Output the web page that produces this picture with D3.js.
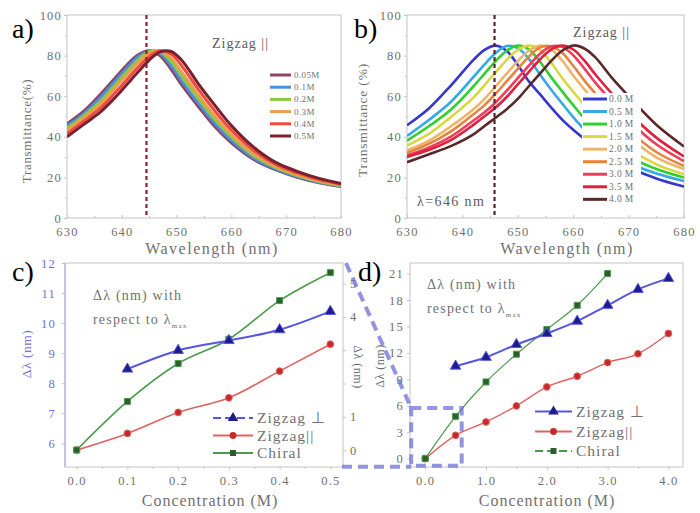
<!DOCTYPE html>
<html>
<head>
<meta charset="utf-8">
<script src="https://cdn.jsdelivr.net/npm/d3@7"></script>
<style>
  body { margin: 0; background: #fff; }
</style>
</head>
<body>
<div id="chart"></div>
<script>
// ---- panel a : Zigzag || spectra, low concentrations ----
const aWave = [630, 633, 636, 639, 641, 643, 645, 647, 649, 651, 654, 657, 660, 664, 668, 672, 676, 680];
const aLabels = ["0.05M", "0.1M", "0.2M", "0.3M", "0.4M", "0.5M"];
const aColors = ["#8e4466", "#4a8ee0", "#8cc83c", "#e8a050", "#f04a3a", "#7a2030"];
const a005 = [46.4, 52.5, 60.6, 69.6, 75.6, 80.4, 82.4, 79.9, 73.2, 65.3, 54.8, 44.9, 37, 28.9, 23.8, 20.1, 17.4, 15.5];
const a01  = [45.4, 51.3, 59.1, 68.1, 74.1, 79.4, 82.3, 81, 75, 67.2, 56.5, 46.5, 38.2, 29.7, 24.3, 20.4, 17.6, 15.7];
const a02  = [44.2, 50.2, 57.3, 66.3, 72.3, 78, 81.9, 81.9, 77.2, 69.6, 58.7, 48.5, 39.8, 30.8, 24.9, 20.9, 18, 16];
const a03  = [43.2, 49.2, 56, 64.8, 70.8, 76.7, 81.1, 82.3, 78.7, 71.6, 60.4, 50.1, 41, 31.8, 25.5, 21.4, 18.3, 16.3];
const a04  = [41.6, 47.6, 54, 62.4, 68.4, 74.4, 79.6, 82.4, 80.8, 74.7, 63.2, 52.7, 43.2, 33.4, 26.5, 22.2, 18.9, 16.6];
const a05  = [40, 46, 52, 60, 66, 72, 77.8, 81.8, 82, 77.5, 66, 55.5, 45.5, 35, 27.5, 23, 19.5, 17];
const aSeries = [a005, a01, a02, a03, a04, a05];
const aMarkLine = 644.5;

// ---- panel b : Zigzag || spectra, high concentrations ----
const bWave = [630, 634, 638, 642, 644, 646, 648, 650, 652, 654, 656, 658, 660, 662, 664, 667, 670, 675, 680];
const bLabels = ["0.0 M", "0.5 M", "1.0 M", "1.5 M", "2.0 M", "2.5 M", "3.0 M", "3.5 M", "4.0 M"];
const bColors = ["#3636d0", "#36a8e8", "#30d030", "#d8d840", "#f0b468", "#e8843a", "#f03c5a", "#e0203c", "#5a2828"];
const b00 = [45.7, 54.1, 65.5, 77.9, 82.8, 84.9, 82.3, 75.4, 67.3, 61, 54.5, 48.5, 43.5, 39, 35, 29.5, 25, 19.5, 15.5];
const b05 = [40.4, 48.4, 57.4, 69.5, 75.7, 81.3, 84.7, 83.7, 78.4, 70.7, 63.3, 56.4, 49.7, 43.6, 38.5, 32, 27.2, 21.9, 18.2];
const b10 = [38.1, 45.3, 53.6, 64.9, 71.1, 77.3, 82.4, 85, 83.1, 77, 69.4, 62.4, 55.6, 49.1, 43.4, 36, 30.3, 24.1, 19.9];
const b15 = [35.7, 41.6, 49.9, 59.3, 65.5, 71.7, 77.9, 82.8, 84.9, 82.8, 76.6, 69, 62.2, 55.6, 49.2, 41, 34.3, 26.4, 21.5];
const b20 = [33.3, 38.1, 45.3, 53.6, 58.7, 64.9, 71.1, 77.3, 82.4, 85, 83.2, 77.6, 70.2, 63.4, 56.9, 47.5, 40, 29.9, 24.1];
const b25 = [32.1, 36.6, 42.8, 51.1, 55.6, 61.2, 67.4, 73.5, 79.5, 84, 84.6, 81.4, 75, 67.8, 61.3, 51.9, 43.4, 32.5, 25.6];
const b30 = [30.8, 34.7, 40.2, 48, 52.1, 56.9, 62.7, 68.9, 75.1, 80.9, 84.5, 84.3, 80.2, 73.7, 66.7, 57.3, 48.3, 36.3, 28];
const b35 = [30.1, 33.6, 38.5, 45.9, 50.1, 54.4, 59.6, 65.8, 72, 78.1, 83, 84.9, 83, 77.6, 70.7, 61.2, 52.1, 39.6, 30.3];
const b40 = [27.5, 31.4, 35.5, 41.2, 45.3, 49.4, 53.6, 58.7, 64.9, 71.1, 77.3, 82.4, 85, 83.5, 79.1, 69, 60, 45.9, 35.2];
const bSeries = [b00, b05, b10, b15, b20, b25, b30, b35, b40];
const bMarkLine = 645.8;

const waveTicks = [630, 640, 650, 660, 670, 680];
const transTicks = [0, 20, 40, 60, 80, 100];

// ---- panel c : shift vs concentration (0 - 0.5 M) ----
const cConcPerp = [0.1, 0.2, 0.3, 0.4, 0.5];
const cPerp = [8.47, 9.09, 9.42, 9.78, 10.39];          // left axis
const cConc = [0, 0.1, 0.2, 0.3, 0.4, 0.5];
const cPar = [0, 0.5, 1.13, 1.57, 2.37, 3.18];         // right axis
const cChiral = [0, 1.46, 2.6, 3.33, 4.49, 5.33];      // right axis
const cTicksX = [0, 0.1, 0.2, 0.3, 0.4, 0.5];
const cTicksLeft = [6, 7, 8, 9, 10, 11, 12];
const cTicksRight = [0, 1, 2, 3, 4, 5];

// ---- panel d : shift vs concentration (0 - 4 M) ----
const dConcPerp = [0.5, 1, 1.5, 2, 2.5, 3, 3.5, 4];
const dPerp = [10.5, 11.5, 12.95, 14.2, 15.6, 17.4, 19.2, 20.45];
const dConcPar = [0, 0.5, 1, 1.5, 2, 2.5, 3, 3.5, 4];
const dPar = [0, 2.65, 4.16, 5.98, 8.14, 9.35, 10.9, 11.9, 14.2];
const dConcChiral = [0, 0.5, 1, 1.5, 2, 2.5, 3];
const dChiral = [0, 4.8, 8.7, 11.85, 14.65, 17.4, 21];
const dTicksX = [0, 1, 2, 3, 4];
const dTicksY = [0, 3, 6, 9, 12, 15, 18, 21];

const serif = "'Liberation Serif', serif";
const gray = "#707070";
const frameCol = "#c4c4c4";
const blueAxis = "#6f6fd6";

const svg = d3.select("#chart").append("svg")
    .attr("width", 700).attr("height", 513);
svg.append("rect").attr("width", 700).attr("height", 513).attr("fill", "#fff");

function styleAxis(g, color) {
    g.attr("font-family", serif);
    g.select(".domain").remove();
    g.selectAll("line").attr("stroke", frameCol);
    g.selectAll("text")
        .attr("fill", color || gray)
        .style("font-family", serif)
        .style("font-size", "12.5px")
        .style("letter-spacing", "1.2px");
}

function frame(x, y) {
    svg.append("rect")
        .attr("x", x.range()[0]).attr("y", y.range()[1])
        .attr("width", x.range()[1] - x.range()[0])
        .attr("height", y.range()[0] - y.range()[1])
        .attr("fill", "none").attr("stroke", frameCol);
}

function label(txt, x, y, opts = {}) {
    const t = svg.append("text").attr("x", x).attr("y", y).text(txt)
        .attr("fill", opts.color || gray)
        .style("font-family", opts.font || serif)
        .style("font-size", (opts.size || 14) + "px")
        .style("letter-spacing", (opts.ls == null ? 1 : opts.ls) + "px")
        .attr("text-anchor", opts.anchor || "start");
    if (opts.rotate) t.attr("transform", `rotate(${opts.rotate},${x},${y})`);
    return t;
}

// ---------- spectra panels ----------
function spectra(wave, series, colors, x, y, width) {
    const line = d3.line()
        .x((d, i) => x(wave[i]))
        .y(d => y(d))
        .curve(d3.curveCatmullRom);
    const clip = "clip" + Math.round(x.range()[0]);
    svg.append("clipPath").attr("id", clip).append("rect")
        .attr("x", x.range()[0]).attr("y", y.range()[1])
        .attr("width", x.range()[1] - x.range()[0])
        .attr("height", y.range()[0] - y.range()[1]);
    svg.append("g").attr("clip-path", `url(#${clip})`)
        .selectAll("path").data(series).join("path")
        .attr("d", line)
        .attr("fill", "none")
        .attr("stroke", (d, i) => colors[i])
        .attr("stroke-width", width)
        .attr("stroke-linejoin", "round");
}

function spectraAxes(x, y) {
    svg.append("g").attr("transform", `translate(0,${y.range()[0]})`)
        .call(d3.axisBottom(x).tickValues(waveTicks).tickSize(-3).tickPadding(9))
        .call(styleAxis);
    svg.append("g").attr("transform", `translate(0,${y.range()[0]})`)
        .call(d3.axisBottom(x).tickValues([635, 645, 655, 665, 675]).tickSize(-2).tickFormat(""))
        .call(styleAxis);
    svg.append("g").attr("transform", `translate(${x.range()[0]},0)`)
        .call(d3.axisLeft(y).tickValues(transTicks).tickSize(3).tickPadding(2))
        .call(styleAxis);
    svg.append("g").attr("transform", `translate(${x.range()[0]},0)`)
        .call(d3.axisLeft(y).tickValues([10, 30, 50, 70, 90]).tickSize(2).tickFormat(""))
        .call(styleAxis);
    frame(x, y);
}

// panel a
const xa = d3.scaleLinear().domain([630, 680]).range([67, 341]);
const ya = d3.scaleLinear().domain([0, 100]).range([218, 15]);
spectraAxes(xa, ya);
spectra(aWave, aSeries, aColors, xa, ya, 3);
svg.append("line")
    .attr("x1", xa(aMarkLine)).attr("x2", xa(aMarkLine))
    .attr("y1", ya(100)).attr("y2", ya(0))
    .attr("stroke", "#8a2030").attr("stroke-width", 2.2).attr("stroke-dasharray", "4,3");
label("Zigzag ||", 212, 48, { color: "#5a5a5a", size: 14 });
aLabels.forEach((l, i) => {
    const yy = 75 + i * 12.2;
    svg.append("line").attr("x1", 270).attr("x2", 291).attr("y1", yy).attr("y2", yy)
        .attr("stroke", aColors[i]).attr("stroke-width", 3);
    label(l, 294, yy + 3, { size: 9, ls: 0.4 });
});
label("Wavelength (nm)", 212, 254, { anchor: "middle", size: 16, ls: 1.5 });
label("Transmittance(%)", 31, 131, { anchor: "middle", size: 13, ls: 0.7, rotate: -90 });

// panel b
const xb = d3.scaleLinear().domain([630, 680]).range([407, 684]);
const yb = d3.scaleLinear().domain([0, 100]).range([218, 15]);
spectraAxes(xb, yb);
spectra(bWave, bSeries, bColors, xb, yb, 2.6);
svg.append("line")
    .attr("x1", xb(bMarkLine)).attr("x2", xb(bMarkLine))
    .attr("y1", yb(100)).attr("y2", yb(0))
    .attr("stroke", "#5a2030").attr("stroke-width", 2.2).attr("stroke-dasharray", "4,3");
label("Zigzag ||", 573, 37, { color: "#5a5a5a", size: 14 });
label("λ=646 nm", 417, 206, { color: "#5a5a5a", size: 14, ls: 1.4 });
svg.append("rect").attr("x", 582).attr("y", 93).attr("width", 59).attr("height", 113).attr("fill", "#fff");
bLabels.forEach((l, i) => {
    const yy = 99 + i * 12.54;
    svg.append("line").attr("x1", 583).attr("x2", 607).attr("y1", yy).attr("y2", yy)
        .attr("stroke", bColors[i]).attr("stroke-width", 3);
    label(l, 609, yy + 3, { size: 9.5, ls: 0.4 });
});
label("Wavelength (nm)", 567, 254, { anchor: "middle", size: 16, ls: 1.5 });
label("Transmittance (%)", 367, 120, { anchor: "middle", size: 13.5, ls: 0.8, rotate: -90 });

// ---------- shift panels ----------
const seriesStyle = {
    perp: { line: "#5656e0", mark: "#1c1c8a", sym: d3.symbolTriangle, size: 48 },
    par: { line: "#e26262", mark: "#c42a2a", sym: d3.symbolCircle, size: 36 },
    chiral: { line: "#4c9a4c", mark: "#2a5e2a", sym: d3.symbolSquare, size: 36 }
};

function plotSeries(xs, ys, x, y, st, width) {
    const pts = xs.map((v, i) => [v, ys[i]]);
    svg.append("path").datum(pts)
        .attr("d", d3.line().x(d => x(d[0])).y(d => y(d[1])).curve(d3.curveMonotoneX))
        .attr("fill", "none").attr("stroke", st.line).attr("stroke-width", width);
    svg.append("g").selectAll("path").data(pts).join("path")
        .attr("transform", d => `translate(${x(d[0])},${y(d[1])})`)
        .attr("d", d3.symbol(st.sym, st.size))
        .attr("fill", st.mark).attr("stroke", st.line).attr("stroke-width", 1);
}

function legendRow(x0, x1, yy, st, txt, dashed) {
    svg.append("line").attr("x1", x0).attr("x2", x1).attr("y1", yy).attr("y2", yy)
        .attr("stroke", st.line).attr("stroke-width", 2)
        .attr("stroke-dasharray", dashed ? "8,4" : null);
    svg.append("path").attr("transform", `translate(${(x0 + x1) / 2},${yy})`)
        .attr("d", d3.symbol(st.sym, st.size)).attr("fill", st.mark);
    label(txt, x1 + 4, yy + 5, { size: 15.5, ls: 1 });
}

function withRespect(x, y) {
    label("Δλ (nm) with", x, y, { size: 14, ls: 1.2 });
    const t = label("respect to λ", x, y + 24, { size: 14, ls: 1.2 });
    t.append("tspan").text("max").attr("dy", 4).style("font-size", "7px");
}

// panel c
const xc = d3.scaleLinear().domain([-0.023, 0.525]).range([65, 343]);
const ycL = d3.scaleLinear().domain([5.21, 12]).range([467, 263]);
const ycR = d3.scaleLinear().domain([-0.51, 5.62]).range([467, 263]);
frame(xc, ycL);
svg.append("g").attr("transform", "translate(0,467)")
    .call(d3.axisBottom(xc).tickValues(cTicksX).tickSize(3).tickPadding(6).tickFormat(d3.format(".1f")))
    .call(styleAxis);
svg.append("g").attr("transform", "translate(0,467)")
    .call(d3.axisBottom(xc).tickValues([0.05, 0.15, 0.25, 0.35, 0.45]).tickSize(2).tickFormat(""))
    .call(styleAxis);
svg.append("g").attr("transform", "translate(65,0)")
    .call(d3.axisLeft(ycL).tickValues(cTicksLeft).tickSize(3).tickPadding(6).tickFormat(d3.format("d")))
    .call(g => styleAxis(g, blueAxis));
svg.append("g").attr("transform", "translate(343,0)")
    .call(d3.axisRight(ycR).tickValues(cTicksRight).tickSize(3).tickPadding(4)
        .tickFormat(d => (d === 2 || d === 3) ? "" : d))
    .call(styleAxis);
svg.append("line").attr("x1", 65).attr("x2", 65).attr("y1", 263).attr("y2", 467)
    .attr("stroke", "#a8a8e0");
plotSeries(cConc, cPar, xc, ycR, seriesStyle.par, 1.6);
plotSeries(cConc, cChiral, xc, ycR, seriesStyle.chiral, 1.6);
plotSeries(cConcPerp, cPerp, xc, ycL, seriesStyle.perp, 2);
withRespect(93, 300);
legendRow(213, 253, 418, seriesStyle.perp, "Zigzag ⊥", true);
legendRow(213, 253, 435.5, seriesStyle.par, "Zigzag||", false);
legendRow(213, 253, 453, seriesStyle.chiral, "Chiral", false);
label("Concentration (M)", 210, 506, { anchor: "middle", size: 16, ls: 1 });
label("Δλ (nm)", 31, 354, { anchor: "middle", size: 13.5, ls: 0.5, color: blueAxis, rotate: -90 });
label("Δλ (nm)", 354, 367, { anchor: "middle", size: 12, ls: 0.5, rotate: 90 });

// panel d
const xd = d3.scaleLinear().domain([-0.25, 4.24]).range([410, 683]);
const yd = d3.scaleLinear().domain([-0.95, 22.2]).range([467, 263]);
frame(xd, yd);
svg.append("g").attr("transform", "translate(0,467)")
    .call(d3.axisBottom(xd).tickValues(dTicksX).tickSize(3).tickPadding(6).tickFormat(d3.format(".1f")))
    .call(styleAxis);
svg.append("g").attr("transform", "translate(0,467)")
    .call(d3.axisBottom(xd).tickValues([0.5, 1.5, 2.5, 3.5]).tickSize(2).tickFormat(""))
    .call(styleAxis);
svg.append("g").attr("transform", "translate(410,0)")
    .call(d3.axisLeft(yd).tickValues(dTicksY).tickSize(3).tickPadding(3))
    .call(styleAxis);
plotSeries(dConcPar, dPar, xd, yd, seriesStyle.par, 1.4);
plotSeries(dConcChiral, dChiral, xd, yd, seriesStyle.chiral, 1.2);
plotSeries(dConcPerp, dPerp, xd, yd, seriesStyle.perp, 2);
withRespect(427, 289);
legendRow(535, 572, 411.5, seriesStyle.perp, "Zigzag ⊥", false);
legendRow(535, 572, 431.5, seriesStyle.par, "Zigzag||", false);
legendRow(535, 572, 451, seriesStyle.chiral, "Chiral", true);
label("Concentration (M)", 547, 506, { anchor: "middle", size: 16, ls: 1 });
label("Δλ (nm)", 384, 366, { anchor: "middle", size: 12, ls: 0.5, rotate: -90 });

// zoom box linking c to d
const zoomStyle = g => g.attr("fill", "none").attr("stroke", "#6a6ad6")
    .attr("stroke-opacity", 0.72).attr("stroke-width", 4).attr("stroke-dasharray", "10,6");
svg.append("rect")
    .attr("x", xd(-0.23)).attr("y", yd(5.75))
    .attr("width", xd(0.6) - xd(-0.23)).attr("height", yd(-0.8) - yd(5.75))
    .call(zoomStyle);
svg.append("line").attr("x1", xc.range()[1] + 3).attr("y1", ycL.range()[1])
    .attr("x2", xd(-0.23)).attr("y2", yd(5.75)).call(zoomStyle);
svg.append("line").attr("x1", xc.range()[1] - 1).attr("y1", yd(-0.8) + 1)
    .attr("x2", xd(-0.23)).attr("y2", yd(-0.8) + 1).call(zoomStyle);

// panel letters
const letter = { font: "'Liberation Serif', serif", size: 28, color: "#000", ls: 0 };
label("a)", 12, 38, letter);
label("b)", 354, 38, letter);
label("c)", 12, 281, letter);
label("d)", 358, 281, letter);
</script>
</body>
</html>
